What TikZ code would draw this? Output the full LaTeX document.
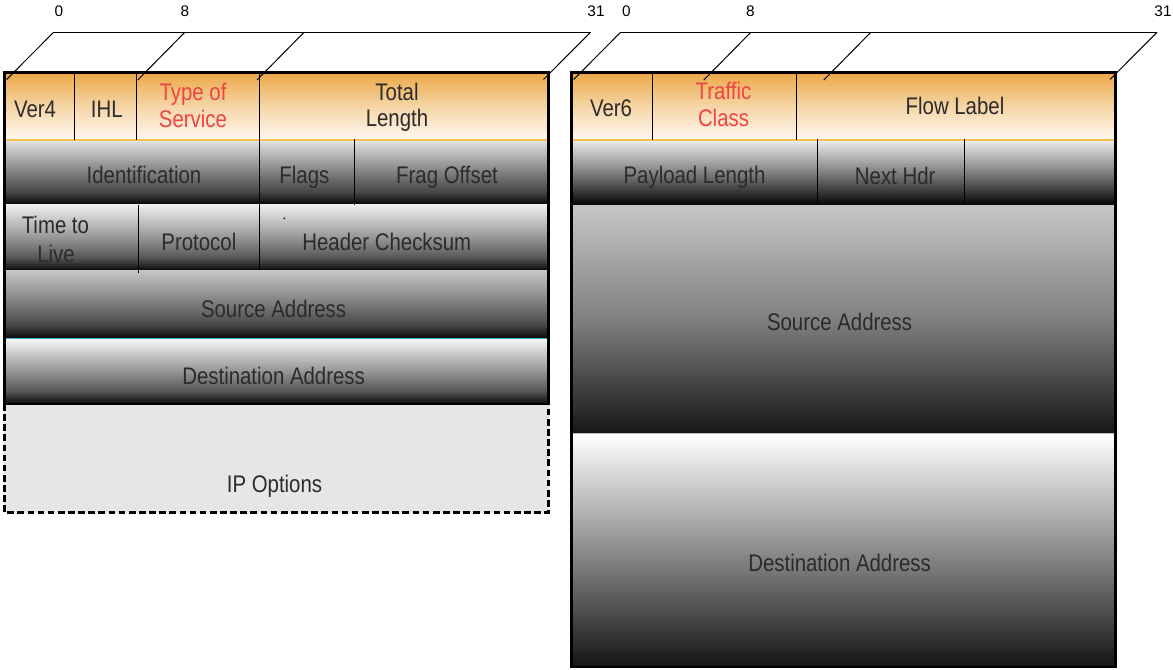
\documentclass[tikz,border=0pt]{standalone}
\usepackage{fontspec}
\setmainfont{Liberation Sans}
\newfontfamily\condfont[FakeStretch=0.85]{Liberation Sans}

\definecolor{txt}{HTML}{2B2B2B}
\definecolor{redtxt}{HTML}{EE4444}
\definecolor{orTop}{HTML}{EBA747}
\definecolor{orMid}{HTML}{F5D5A5}
\definecolor{orBot}{HTML}{FFF9F3}
\definecolor{orLine}{HTML}{F2C14E}
\definecolor{cyLine}{HTML}{3AAFD2}
\definecolor{optFill}{HTML}{E6E6E6}
\definecolor{sepGray}{HTML}{BBBBBB}

% vertical gray row shadings: 25bp = bottom of the row, 75bp = top of the row
\pgfdeclareverticalshading{rowA}{100bp}{rgb(0bp)=(0.01,0.01,0.01); rgb(25bp)=(0.01,0.01,0.01); rgb(28bp)=(0.10,0.10,0.10); rgb(35bp)=(0.28,0.28,0.28); rgb(50bp)=(0.50,0.50,0.50); rgb(75bp)=(0.89,0.89,0.89); rgb(100bp)=(0.89,0.89,0.89)}
\pgfdeclareverticalshading{rowB}{100bp}{rgb(0bp)=(0.02,0.02,0.02); rgb(25bp)=(0.02,0.02,0.02); rgb(28bp)=(0.14,0.14,0.14); rgb(35bp)=(0.35,0.35,0.35); rgb(50bp)=(0.59,0.59,0.59); rgb(75bp)=(0.94,0.94,0.94); rgb(100bp)=(0.94,0.94,0.94)}
\pgfdeclareverticalshading{rowC}{100bp}{rgb(0bp)=(0.03,0.03,0.03); rgb(25bp)=(0.03,0.03,0.03); rgb(28bp)=(0.11,0.11,0.11); rgb(35bp)=(0.28,0.28,0.28); rgb(50bp)=(0.48,0.48,0.48); rgb(75bp)=(0.78,0.78,0.78); rgb(100bp)=(0.78,0.78,0.78)}
\pgfdeclareverticalshading{rowD}{100bp}{rgb(0bp)=(0.03,0.03,0.03); rgb(25bp)=(0.03,0.03,0.03); rgb(28bp)=(0.13,0.13,0.13); rgb(35bp)=(0.34,0.34,0.34); rgb(50bp)=(0.58,0.58,0.58); rgb(75bp)=(0.97,0.97,0.97); rgb(100bp)=(0.97,0.97,0.97)}

\tikzset{
  field/.style={font=\condfont\fontsize{18}{19.5}\selectfont, text=txt, inner sep=0pt, anchor=base},
  redfield/.style={field, text=redtxt},
  bitlbl/.style={font=\fontsize{11.5}{13}\selectfont, text=black, inner sep=0pt, anchor=base},
  frame/.style={draw=black, line width=2.2pt},
  divider/.style={draw=black, line width=0.75pt},
  bracket/.style={draw=black, line width=0.75pt},
  hdrbar/.style={top color=orTop, bottom color=orBot, middle color=orMid},
  barE/.style={top color={rgb,255:red,236;green,236;blue,236}, bottom color={rgb,255:red,3;green,3;blue,3}, middle color={rgb,255:red,128;green,128;blue,128}},
  barF/.style={top color={rgb,255:red,198;green,198;blue,198}, bottom color={rgb,255:red,22;green,22;blue,22}, middle color={rgb,255:red,128;green,128;blue,128}},
  barG/.style={top color=white, bottom color={rgb,255:red,20;green,20;blue,20}, middle color={rgb,255:red,140;green,140;blue,140}},
}

\begin{document}
\begin{tikzpicture}[x=0.75pt,y=-0.75pt]
\useasboundingbox (0,0) rectangle (1173,669);

% ================= LEFT (IPv4) =================
\shade[hdrbar] (4.3,72.3) rectangle (548.6,140);
\shade[shading=rowA] (4.3,140) rectangle (548.6,204.5);
\shade[shading=rowB] (4.3,204.5) rectangle (548.6,270);
\shade[shading=rowC] (4.3,270) rectangle (548.6,338.5);
\shade[shading=rowD] (4.3,338.5) rectangle (548.6,404);
\fill[optFill] (4.3,404) rectangle (548.6,512.5);
\draw[line width=2.2pt, dash pattern=on 5pt off 2.6pt] (4.3,404) -- (4.3,512.5) -- (548.6,512.5) -- (548.6,404);

\draw[orLine, line width=1.2pt] (5.5,140) -- (547.4,140);
\draw[cyLine, line width=1.2pt] (5.5,338.5) -- (547.4,338.5);

\draw[divider] (74.6,72.3) -- (74.6,140);
\draw[divider] (136,72.3) -- (136,140);
\draw[divider] (259,72.3) -- (259,270);
\draw[divider] (354,139) -- (354,204.5);
\draw[divider] (138,204.5) -- (138,273);
\fill[black] (284.3,218.3) circle (0.9);

\draw[frame] (4.3,72.3) rectangle (548.6,404);

% bit scale (left)
\coordinate (la) at (53.6,32.3);
\coordinate (lb) at (184.8,32.3);
\coordinate (lc) at (304,32.3);
\coordinate (ld) at (590.5,32.3);
\coordinate (la') at (6.6,79.5);
\coordinate (lb') at (137.8,80);
\coordinate (lc') at (257,80);
\coordinate (ld') at (543.5,79.5);
\draw[bracket] (la) -- (ld);
\draw[bracket] (la) -- (la');
\draw[bracket] (lb) -- (lb');
\draw[bracket] (lc) -- (lc');
\draw[bracket] (ld) -- (ld');

\node[bitlbl] (lzero) at (59,16.7) {0};
\node[bitlbl] (leight) at (185,16.7) {8};
\node[bitlbl] (lthirty) at (596,16.7) {31};

\node[field] (ver4) at (35,117) {Ver4};
\node[field] (ihl) at (106.8,117) {IHL};
\node[redfield] (tos1) at (193,100.7) {Type of};
\node[redfield] (tos2) at (193,127.3) {Service};
\node[field] (tl1) at (397,100) {Total};
\node[field] (tl2) at (397,126) {Length};
\node[field] (ident) at (144,183.3) {Identification};
\node[field] (flags) at (304.4,183.5) {Flags};
\node[field] (frag) at (447,183.5) {Frag Offset};
\node[field] (ttl1) at (55.4,233.3) {Time to};
\node[field] (ttl2) at (56,262) {Live};
\node[field] (proto) at (198.9,250.7) {Protocol};
\node[field] (csum) at (386.8,250.7) {Header Checksum};
\node[field] (src4) at (273.6,317.7) {Source Address};
\node[field] (dst4) at (273.6,384.3) {Destination Address};
\node[field] (ipopt) at (274.5,492.3) {IP Options};

% ================= RIGHT (IPv6) =================
\shade[hdrbar] (571.2,72.3) rectangle (1115.3,140);
\shade[barE] (571.2,140) rectangle (1115.3,205);
\shade[barF] (571.2,205) rectangle (1115.3,433.5);
\shade[barG] (571.2,433.5) rectangle (1115.3,667);

\draw[orLine, line width=1.2pt] (572.4,140) -- (1114.1,140);
\draw[sepGray, line width=0.9pt] (572.4,433.5) -- (1114.1,433.5);

\draw[divider] (652,72.3) -- (652,140);
\draw[divider] (796,72.3) -- (796,140);
\draw[divider] (817,139) -- (817,205);
\draw[divider] (964.6,139) -- (964.6,205);

\draw[frame] (571.2,72.3) rectangle (1115.3,667);

% bit scale (right)
\coordinate (ra) at (620.6,32.3);
\coordinate (rb) at (750.8,32.3);
\coordinate (rc) at (870.8,32.3);
\coordinate (rd) at (1157,32.3);
\coordinate (ra') at (573.6,79.5);
\coordinate (rb') at (703.8,80);
\coordinate (rc') at (823.8,80);
\coordinate (rd') at (1110,79.5);
\draw[bracket] (ra) -- (rd);
\draw[bracket] (ra) -- (ra');
\draw[bracket] (rb) -- (rb');
\draw[bracket] (rc) -- (rc');
\draw[bracket] (rd) -- (rd');

\node[bitlbl] (rzero) at (626.5,16.7) {0};
\node[bitlbl] (reight) at (750.4,16.7) {8};
\node[bitlbl] (rthirty) at (1163,16.7) {31};

\node[field] (ver6) at (611,116.7) {Ver6};
\node[redfield] (tc1) at (723.5,99.3) {Traffic};
\node[redfield] (tc2) at (723.5,126) {Class};
\node[field] (flow) at (955,114.3) {Flow Label};
\node[field] (plen) at (694.5,183.3) {Payload Length};
\node[field] (nhdr) at (895.2,184) {Next Hdr};
\node[field] (src6) at (839.6,330) {Source Address};
\node[field] (dst6) at (839.6,571.7) {Destination Address};
\end{tikzpicture}
\end{document}
